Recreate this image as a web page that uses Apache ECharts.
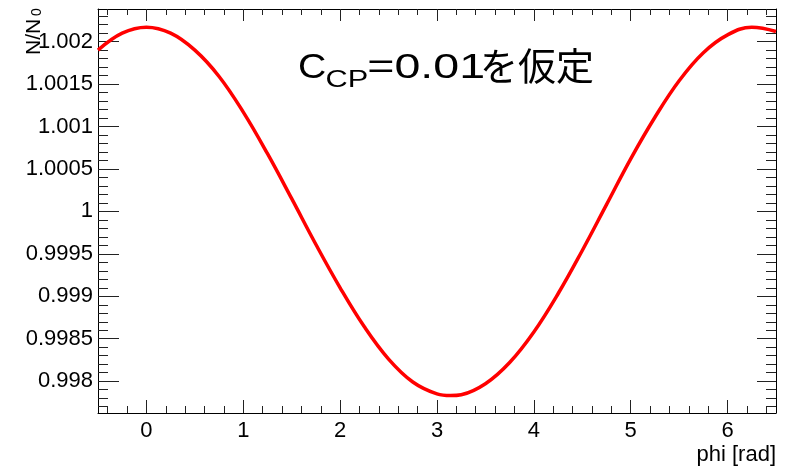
<!DOCTYPE html>
<html>
<head>
<meta charset="utf-8">
<script src="https://cdn.jsdelivr.net/npm/echarts@6/dist/echarts.min.js"></script>
<style>html,body{margin:0;padding:0;background:#fff;}#c{width:785px;height:466px;}</style>
</head>
<body>
<div id="c"></div>
<script>
// ---- data ----
const phiValues = [-0.5, -0.25, 0, 0.25, 0.5, 0.75, 1.0, 1.25, 1.5, 1.75, 2.0, 2.25, 2.5, 2.75, 3.0, 3.14, 3.25, 3.5, 3.75, 4.0, 4.25, 4.5, 4.75, 5.0, 5.25, 5.5, 5.75, 6.0, 6.25, 6.5];
const ratioValues = [1.00190, 1.00210, 1.00217, 1.00210, 1.00190, 1.00159, 1.00117, 1.00068, 1.00015, 0.99961, 0.99910, 0.99864, 0.99826, 0.99799, 0.99785, 0.99783, 0.99784, 0.99797, 0.99822, 0.99858, 0.99903, 0.99954, 1.00008, 1.00062, 1.00111, 1.00154, 1.00187, 1.00208, 1.00217, 1.00212];
const xTickValues = [0, 1, 2, 3, 4, 5, 6];
const xTickLabels = ['0', '1', '2', '3', '4', '5', '6'];
const yTickValues = [0.998, 0.9985, 0.999, 0.9995, 1, 1.0005, 1.001, 1.0015, 1.002];
const yTickLabels = ['0.998', '0.9985', '0.999', '0.9995', '1', '1.0005', '1.001', '1.0015', '1.002'];
const xTitle = 'phi [rad]';
const yTitle = 'N/N';
const yTitleSub = '0';
const titleParts = ['C', 'CP', '=0.01', 'を仮定'];

const X_MIN = -0.5, X_MAX = 6.5;
const Y_MIN = 0.997625, Y_MAX = 1.002385;

const xMinor = [];
for (let i = -2; i <= 32; i++) xMinor.push(Math.round(i * 0.2 * 10) / 10);
const yMinor = [];
for (let i = 9977; i <= 10023; i++) yMinor.push(Math.round(i) / 10000);

const FONT = "'Liberation Sans', Arial, Helvetica, sans-serif";
const tickColor = '#222';
const LBL = 22;

function fmtY(v) {
  let best = 0, d = Infinity;
  yTickValues.forEach((t, i) => { const dd = Math.abs(t - v); if (dd < d) { d = dd; best = i; } });
  return yTickLabels[best];
}
function fmtX(v) {
  let best = 0, d = Infinity;
  xTickValues.forEach((t, i) => { const dd = Math.abs(t - v); if (dd < d) { d = dd; best = i; } });
  return xTickLabels[best];
}

function xAx(pos, ticks, len, withLine, withLabels) {
  return {
    type: 'value', position: pos, min: X_MIN, max: X_MAX,
    axisLine: { show: withLine, onZero: false, lineStyle: { color: '#000', width: 1 } },
    axisTick: { show: true, inside: true, length: len, customValues: ticks, lineStyle: { color: tickColor, width: 1 } },
    axisLabel: withLabels ? { show: true, customValues: xTickValues, formatter: fmtX, fontFamily: FONT, fontSize: LBL, color: '#000', margin: 7 } : { show: false },
    splitLine: { show: false }
  };
}
function yAx(pos, ticks, len, withLine, withLabels) {
  return {
    type: 'value', position: pos, min: Y_MIN, max: Y_MAX,
    axisLine: { show: withLine, onZero: false, lineStyle: { color: '#000', width: 1 } },
    axisTick: { show: true, inside: true, length: len, customValues: ticks, lineStyle: { color: tickColor, width: 1 } },
    axisLabel: withLabels ? { show: true, customValues: yTickValues, formatter: fmtY, fontFamily: FONT, fontSize: LBL, color: '#000', margin: 5 } : { show: false },
    splitLine: { show: false }
  };
}

const chart = echarts.init(document.getElementById('c'), null, { renderer: 'canvas' });
chart.setOption({
  animation: false,
  backgroundColor: '#fff',
  grid: { left: 98, right: 9, top: 9, bottom: 53, containLabel: false },
  xAxis: [
    xAx('bottom', xTickValues, 13, true, true),
    xAx('bottom', xMinor, 7, false, false),
    xAx('top', xTickValues, 12, true, false),
    xAx('top', xMinor, 6, false, false)
  ],
  yAxis: [
    yAx('left', yTickValues, 21, true, true),
    yAx('left', yMinor, 10, false, false),
    yAx('right', yTickValues, 19, true, false),
    yAx('right', yMinor, 10, false, false)
  ],
  series: [{
    type: 'line', xAxisIndex: 0, yAxisIndex: 0,
    data: phiValues.map((x, i) => [x, ratioValues[i]]),
    smooth: 0.4, showSymbol: false, symbol: 'none',
    lineStyle: { color: '#ff0000', width: 3.5 },
    itemStyle: { color: '#ff0000' },
    z: 3
  }],
  graphic: [
    { type: 'text', x: 776, y: 455, style: { text: xTitle, align: 'right', verticalAlign: 'middle', font: LBL + 'px ' + FONT, fill: '#000' } },
    { type: 'text', x: 34, y: 55, rotation: Math.PI / 2, style: { text: yTitle, align: 'left', verticalAlign: 'middle', font: '21px ' + FONT, fill: '#000' } },
    { type: 'text', x: 37, y: 16, rotation: Math.PI / 2, style: { text: yTitleSub, align: 'left', verticalAlign: 'middle', font: '14px ' + FONT, fill: '#000' } },
    { type: 'text', x: 298, y: 67.9, scaleX: 1.12, style: { text: titleParts[0], align: 'left', verticalAlign: 'middle', font: '35px ' + FONT, fill: '#000' } },
    { type: 'text', x: 325.5, y: 80.7, scaleX: 1.28, style: { text: titleParts[1], align: 'left', verticalAlign: 'middle', font: '24px ' + FONT, fill: '#000' } },
    { type: 'text', x: 367.3, y: 67.9, scaleX: 1.33, style: { text: titleParts[2], align: 'left', verticalAlign: 'middle', font: '35px ' + FONT, fill: '#000' } },
    { type: 'text', x: 480, y: 66, style: { text: titleParts[3], align: 'left', verticalAlign: 'middle', font: "38px 'Noto Sans CJK JP', sans-serif", fill: '#000' } }
  ]
});
</script>
</body>
</html>
